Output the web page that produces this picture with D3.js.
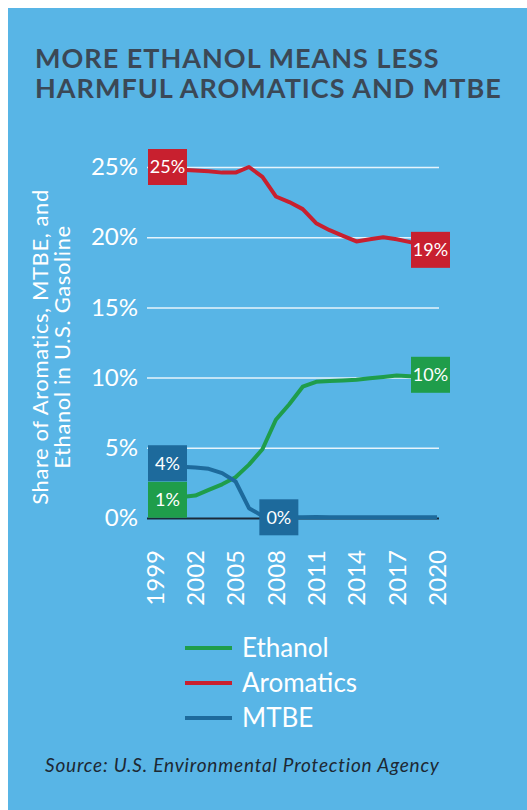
<!DOCTYPE html>
<html>
<head>
<meta charset="utf-8">
<script src="https://cdn.jsdelivr.net/npm/d3@7"></script>
<style>
  body { margin: 0; background: #fff; }
  svg { display: block; font-family: Lato, 'Open Sans', sans-serif; }
</style>
</head>
<body>
<svg></svg>
<script>
// chart values
var years = [1999, 2000, 2001, 2002, 2003, 2004, 2005, 2006, 2007, 2008, 2009,
  2010, 2011, 2012, 2013, 2014, 2015, 2016, 2017, 2018, 2019, 2020];
var ethanol = [1.3, 1.4, 1.5, 1.6, 2.0, 2.4, 2.9, 3.8, 4.9, 7.0, 8.1,
  9.35, 9.7, 9.75, 9.8, 9.85, 9.95, 10.05, 10.15, 10.1, 10.1, 10.2];
var aromatics = [25.0, 24.9, 24.8, 24.75, 24.7, 24.6, 24.6, 25.0, 24.3, 22.9, 22.5,
  22.0, 21.0, 20.5, 20.1, 19.7, 19.85, 20.0, 19.85, 19.65, 19.45, 19.1];
var mtbe = [3.9, 3.8, 3.65, 3.6, 3.5, 3.2, 2.6, 0.7, 0.15, 0.05, 0.05,
  0.05, 0.08, 0.05, 0.05, 0.05, 0.05, 0.05, 0.05, 0.05, 0.05, 0.05];
var yTicks = [0, 5, 10, 15, 20, 25];
var xTicks = [1999, 2002, 2005, 2008, 2011, 2014, 2017, 2020];
var seriesNames = ['Ethanol', 'Aromatics', 'MTBE'];
var callouts = [
  { series: 'Aromatics', year: 1999, text: '25%', side: 'left' },
  { series: 'Aromatics', year: 2020, text: '19%', side: 'right' },
  { series: 'Ethanol', year: 1999, text: '1%', side: 'left' },
  { series: 'Ethanol', year: 2020, text: '10%', side: 'right' },
  { series: 'MTBE', year: 1999, text: '4%', side: 'left' },
  { series: 'MTBE', year: 2008, text: '0%', side: 'middle' }
];

var colors = { Ethanol: '#1f9d4b', Aromatics: '#c8202f', MTBE: '#1d6a9c' };
var values = { Ethanol: ethanol, Aromatics: aromatics, MTBE: mtbe };

var W = 527, H = 810;
var svg = d3.select('svg').attr('width', W).attr('height', H);

svg.append('rect')
  .attr('x', 8).attr('y', 8)
  .attr('width', W - 8).attr('height', H - 8)
  .attr('fill', '#58b5e6');

// title
['MORE ETHANOL MEANS LESS', 'HARMFUL AROMATICS AND MTBE'].forEach(function(t, i) {
  svg.append('text')
    .attr('x', 35).attr('y', 68 + i * 30)
    .attr('fill', '#3b4856')
    .attr('font-size', 27)
    .attr('font-weight', 700)
    .attr('letter-spacing', 1)
    .text(t);
});

var gridLeft = 147, gridRight = 439;
var scaleX = d3.scaleLinear().domain([1999, 2020]).range([155, 437]);
var scaleY = d3.scaleLinear().domain([0, 25]).range([518, 167]);

// y axis with gridlines
var yAxis = d3.axisLeft(scaleY)
  .tickValues(yTicks)
  .tickFormat(function(d) { return d + '%'; })
  .tickSizeInner(-(gridRight - gridLeft))
  .tickSizeOuter(0)
  .tickPadding(9);

var gy = svg.append('g')
  .attr('transform', 'translate(' + gridLeft + ',0)')
  .call(yAxis);
gy.select('.domain').remove();
gy.selectAll('.tick line')
  .attr('stroke', function(d) { return d === 0 ? '#1a2a3a' : '#ffffff'; })
  .attr('stroke-opacity', function(d) { return d === 0 ? 1 : 0.85; })
  .attr('stroke-width', function(d) { return d === 0 ? 2 : 1.5; });
gy.selectAll('.tick text')
  .attr('fill', '#ffffff')
  .attr('font-size', 24)
  .attr('font-family', 'Lato, sans-serif');

// x axis, rotated labels
var xAxis = d3.axisBottom(scaleX)
  .tickValues(xTicks)
  .tickFormat(d3.format('d'))
  .tickSize(0);
var gx = svg.append('g')
  .attr('transform', 'translate(0,518)')
  .call(xAxis);
gx.select('.domain').remove();
gx.selectAll('.tick text')
  .attr('fill', '#ffffff')
  .attr('font-size', 24)
  .attr('font-family', 'Lato, sans-serif')
  .attr('transform', 'rotate(-90)')
  .attr('text-anchor', 'end')
  .attr('x', -32)
  .attr('y', 0)
  .attr('dy', '0.35em');

// y axis title
var yTitle = svg.append('text')
  .attr('transform', 'translate(40,347) rotate(-90)')
  .attr('text-anchor', 'middle')
  .attr('fill', '#ffffff')
  .attr('font-size', 22)
  .attr('letter-spacing', 0.6);
yTitle.append('tspan').attr('x', 0).attr('dy', '0.35em').text('Share of Aromatics, MTBE, and');
yTitle.append('tspan').attr('x', 0).attr('dy', '1.0em').text('Ethanol in U.S. Gasoline');

// lines
var line = d3.line()
  .x(function(d) { return scaleX(d[0]); })
  .y(function(d) { return scaleY(d[1]); });

seriesNames.forEach(function(name) {
  svg.append('path')
    .datum(d3.zip(years, values[name]))
    .attr('fill', 'none')
    .attr('stroke', colors[name])
    .attr('stroke-width', 4)
    .attr('stroke-linejoin', 'round')
    .attr('d', line);
});

// value callouts
var boxW = 39, boxH = 36;
var boxes = svg.selectAll('.callout')
  .data(callouts)
  .enter().append('g')
  .attr('class', 'callout')
  .attr('transform', function(c) {
    var px = scaleX(c.year);
    var v = values[c.series][years.indexOf(c.year)];
    var cx = c.side === 'left' ? px + 12.5 : c.side === 'right' ? px - 6.5 : px + 3;
    return 'translate(' + (cx - boxW / 2) + ',' + (scaleY(v) - boxH / 2) + ')';
  });
boxes.append('rect')
  .attr('width', boxW).attr('height', boxH)
  .attr('fill', function(c) { return colors[c.series]; });
boxes.append('text')
  .attr('x', boxW / 2).attr('y', boxH / 2)
  .attr('dy', '0.36em')
  .attr('text-anchor', 'middle')
  .attr('fill', '#ffffff')
  .attr('font-size', 18)
  .text(function(c) { return c.text; });

// legend
var legend = svg.selectAll('.legend')
  .data(seriesNames)
  .enter().append('g')
  .attr('class', 'legend')
  .attr('transform', function(d, i) { return 'translate(185,' + (648 + i * 35) + ')'; });
legend.append('line')
  .attr('x1', 0).attr('x2', 47)
  .attr('stroke', function(d) { return colors[d]; })
  .attr('stroke-width', 4);
legend.append('text')
  .attr('x', 57).attr('dy', '0.36em')
  .attr('fill', '#ffffff')
  .attr('font-size', 26)
  .text(function(d) { return d; });

// source
svg.append('text')
  .attr('x', 45).attr('y', 772)
  .attr('fill', '#1d2833')
  .attr('font-size', 19)
  .attr('font-style', 'italic')
  .attr('letter-spacing', 0.8)
  .text('Source: U.S. Environmental Protection Agency');
</script>
</body>
</html>
